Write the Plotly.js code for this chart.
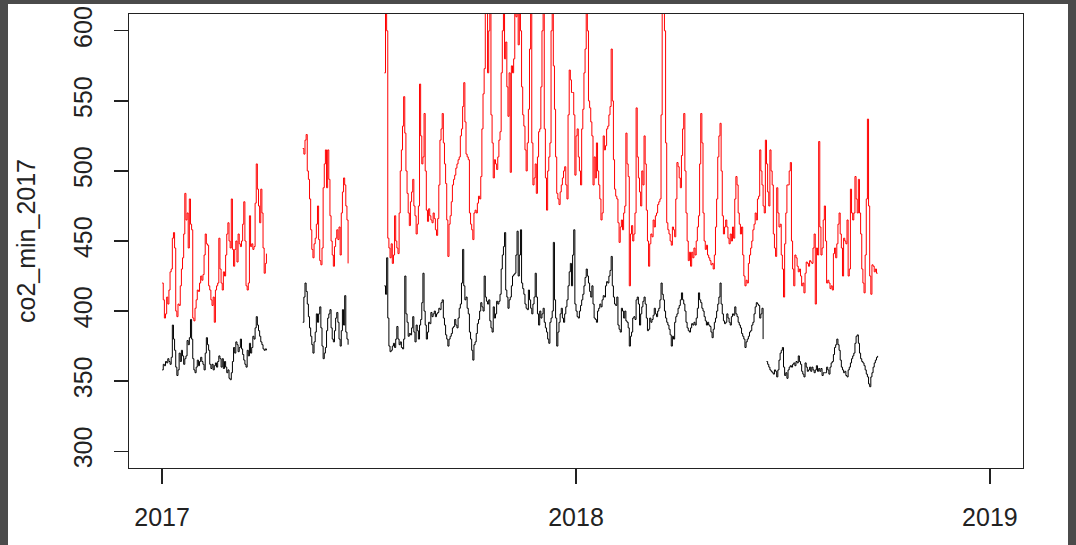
<!DOCTYPE html>
<html>
<head>
<meta charset="utf-8">
<script src="https://cdn.plot.ly/plotly-3.0.1.min.js"></script>
<style>
  html, body { margin: 0; padding: 0; width: 1076px; height: 545px; overflow: hidden; background: #4b4b4b; }
  #chart { position: absolute; left: 8px; top: 4px; width: 1060px; height: 541px; background: #fff; }
</style>
</head>
<body>
<div id="chart"></div>
<script>
// ---- Data ----
// segment start dates (daily series)
const redSegmentStarts   = ['2017-01-01', '2017-05-05', '2017-07-16'];
const blackSegmentStarts = ['2017-01-01', '2017-05-05', '2017-07-16', '2018-06-18'];

// Red series (upper line)
const redSeg1 = [420,408,395,398,410,405,415,428,430,452,
  456,445,400,396,405,404,418,430,438,455,
  484,465,470,445,480,462,458,395,393,402,
  408,415,414,420,425,422,426,440,455,448,
  447,418,415,408,404,410,392,415,418,420,
  452,430,420,415,428,425,440,455,463,450,
  445,480,444,432,444,450,435,455,448,446,
  450,462,478,450,418,415,420,468,446,448,
  444,446,477,505,487,475,463,487,470,445,
  427,434,441];
const redSeg2 = [516,512,522,526,500,494,480,458,444,438,
  448,452,462,475,451,436,433,445,488,505,
  515,488,515,494,468,450,440,432,446,452,
  458,451,460,440,470,485,495,490,475,465,
  434];
const redSeg3 = [570,630,600,452,445,438,448,434,440,468,
  450,445,441,470,500,515,532,553,527,500,
  484,470,461,478,485,494,475,468,455,462,
  475,562,525,505,510,541,500,472,464,473,
  468,465,463,470,466,458,454,466,490,522,
  530,541,520,505,491,465,439,462,468,478,
  490,494,497,502,505,508,510,525,530,546,
  563,535,512,510,508,470,462,458,451,470,
  472,470,477,482,480,496,530,555,573,620,
  630,570,600,630,540,520,495,508,505,501,
  510,522,528,570,600,630,580,592,560,539,
  570,499,575,570,580,630,610,630,590,630,
  600,560,540,532,515,500,520,544,587,620,
  520,490,495,505,484,510,528,530,560,600,
  630,530,495,472,500,510,520,600,630,575,
  544,510,484,480,476,485,490,495,500,503,
  490,480,540,572,565,556,556,540,497,525,
  530,510,500,490,530,544,570,587,630,600,
  550,545,535,525,490,
  510,495,520,500,490,480,465,470,525,515,
  518,530,532,540,546,587,550,508,487,482,
  480,463,449,460,465,458,470,475,527,505,
  496,418,455,461,450,455,470,545,510,495,
  485,475,500,490,525,505,472,450,432,448,
  455,453,465,460,468,470,476,478,480,540,
  630,630,600,520,463,458,455,450,447,460,
  458,453,480,506,503,495,488,511,530,541,
  500,470,450,436,442,432,442,438,445,440,
  450,460,468,505,541,520,470,450,444,447,
  440,438,436,433,434,430,440,460,480,510,
  525,534,500,468,455,460,465,460,452,448,
  455,450,460,452,480,496,490,470,462,455,
  460,440,425,418,422,420,434,440,445,450,
  458,462,470,465,480,482,515,500,490,475,
  470,522,505,485,475,515,500,490,455,445,
  439,488,470,460,462,440,430,410,448,
  470,490,490,500,506,450,430,418,440,438,
  432,428,430,425,418,420,413,427,435,434,
  432,436,435,434,445,455,405,445,440,521,
  460,440,445,465,475,450,420,422,420,416,
  418,415,441,445,438,448,462,470,455,445,
  425,452,450,448,465,425,430,487,470,465,
  470,496,480,470,494,470,455,430,420,413,
  440,480,537,475,425,412,433,432,428,430,
  427,427];

// Black series (lower line, co2_min_2017)
const blackSeg1 = [358,362,361,364,363,366,364,362,367,390,
  380,372,360,354,358,370,364,372,368,362,
  366,368,379,376,381,394,380,366,358,356,
  360,365,361,364,367,364,362,358,370,381,
  376,372,362,359,362,358,361,363,360,364,
  368,366,360,366,359,364,360,356,358,352,
  351,356,364,374,370,378,376,371,374,380,
  373,369,365,362,360,372,368,377,370,374,
  382,380,388,396,390,386,382,378,376,373,
  372,373,372];
const blackSeg2 = [392,410,420,414,405,396,388,382,376,370,
  378,385,398,392,398,403,388,375,366,370,
  374,386,395,398,401,388,380,378,386,395,
  399,392,380,375,386,401,390,411,385,380,
  376];
const blackSeg3 = [418,412,438,395,375,371,372,375,377,374,
  380,389,380,376,378,374,373,380,425,398,
  392,382,384,383,388,396,385,378,390,386,
  380,390,394,406,427,400,390,380,385,392,
  391,399,396,398,400,396,398,399,402,401,
  406,408,395,390,383,380,375,380,382,384,
  388,389,394,390,388,395,402,405,420,444,
  418,408,410,402,398,385,380,372,365,376,
  378,384,391,394,400,406,403,400,425,410,
  407,405,408,393,388,385,403,395,398,407,
  405,407,412,430,440,446,456,415,410,402,
  408,410,418,425,426,427,440,457,425,440,
  458,420,416,412,405,402,401,415,408,402,
  398,405,410,427,410,398,390,400,395,398,
  402,392,388,385,380,377,392,395,400,449,
  408,395,375,385,392,398,402,395,392,398,
  403,408,418,428,434,418,440,458,405,400,
  396,395,400,404,408,412,418,424,430,425,
  420,414,410,418,405,
  395,394,392,400,402,405,403,408,411,410,
  418,421,420,425,429,439,418,410,405,404,
  410,390,387,385,402,400,395,400,393,392,
  388,375,382,385,395,396,394,408,410,405,
  390,398,403,407,410,405,395,386,387,395,
  392,394,397,402,398,396,400,402,408,420,
  412,408,400,395,392,390,387,383,375,382,
  380,392,396,398,402,404,408,413,408,405,
  400,392,388,386,385,388,391,390,392,390,
  395,402,413,408,406,402,400,396,393,390,
  392,390,389,385,381,387,392,395,400,405,
  410,420,405,398,393,391,392,398,395,392,
  390,396,398,397,403,398,396,392,390,388,
  384,382,380,374,378,380,382,385,386,390,
  392,398,403,406,405,404,395,398,402,380];
const blackSeg4 = [364,362,360,358,357,356,355,358,357,353,
  358,365,370,372,374,360,354,356,352,358,
  360,361,360,362,363,361,364,363,368,364,
  362,357,355,353,363,360,357,358,360,357,
  360,358,356,358,361,357,359,357,359,354,
  356,356,356,360,358,355,360,363,364,369,
  374,376,380,376,372,365,360,358,356,357,
  354,353,358,360,363,366,368,370,377,382,
  383,377,370,366,364,363,361,358,355,353,
  348,346,353,356,360,363,365,367,368];

const xTickVals = ['2017-01-01', '2018-01-01', '2019-01-01'];
const xTickText = ['2017', '2018', '2019'];
const yTickVals = [300, 350, 400, 450, 500, 550, 600];
const yTitle = 'co2_min_2017';

// ---- Build daily date axes from segment starts ----
function dayString(start, offset) {
  const p = start.split('-').map(Number);
  return new Date(Date.UTC(p[0], p[1] - 1, p[2] + offset)).toISOString().slice(0, 10);
}
function joinSegments(starts, segs) {
  const xs = [], ys = [];
  segs.forEach((seg, k) => {
    seg.forEach((v, i) => { xs.push(dayString(starts[k], i)); ys.push(v); });
    if (k < segs.length - 1) { xs.push(dayString(starts[k], seg.length)); ys.push(null); }
  });
  return {xs, ys};
}
const red = joinSegments(redSegmentStarts, [redSeg1, redSeg2, redSeg3]);
const black = joinSegments(blackSegmentStarts, [blackSeg1, blackSeg2, blackSeg3, blackSeg4]);

const font = {family: 'Liberation Sans, Arial, sans-serif', size: 25, color: '#222'};

const traces = [
  {x: black.xs, y: black.ys, type: 'scatter', mode: 'lines', connectgaps: false,
   line: {color: '#000000', width: 1, shape: 'hv'}, hoverinfo: 'skip'},
  {x: red.xs, y: red.ys, type: 'scatter', mode: 'lines', connectgaps: false,
   line: {color: '#ff0000', width: 1, shape: 'hv'}, hoverinfo: 'skip'}
];

const layout = {
  width: 1060, height: 541,
  margin: {l: 121, r: 45, t: 10, b: 77, pad: 0},
  paper_bgcolor: '#ffffff', plot_bgcolor: '#ffffff',
  showlegend: false,
  font: font,
  xaxis: {
    type: 'date',
    range: ['2016-12-02 19:00', '2019-01-30 05:00'],
    tickmode: 'array', tickvals: xTickVals, ticktext: xTickText,
    ticks: 'outside', ticklen: 15, tickwidth: 1.3, tickcolor: '#222',
    showline: true, linecolor: '#222', linewidth: 1.3, mirror: true,
    showgrid: false, zeroline: false,
    tickfont: font, ticklabelstandoff: 12
  },
  yaxis: {
    range: [288, 612],
    tickmode: 'array', tickvals: yTickVals,
    tickangle: -90,
    ticks: 'outside', ticklen: 14, tickwidth: 1.3, tickcolor: '#222',
    showline: true, linecolor: '#222', linewidth: 1.3, mirror: true,
    showgrid: false, zeroline: false,
    tickfont: font, ticklabelstandoff: 12,
    title: {text: yTitle, font: font, standoff: 26}
  }
};

Plotly.newPlot('chart', traces, layout, {staticPlot: true, displayModeBar: false});
</script>
</body>
</html>
